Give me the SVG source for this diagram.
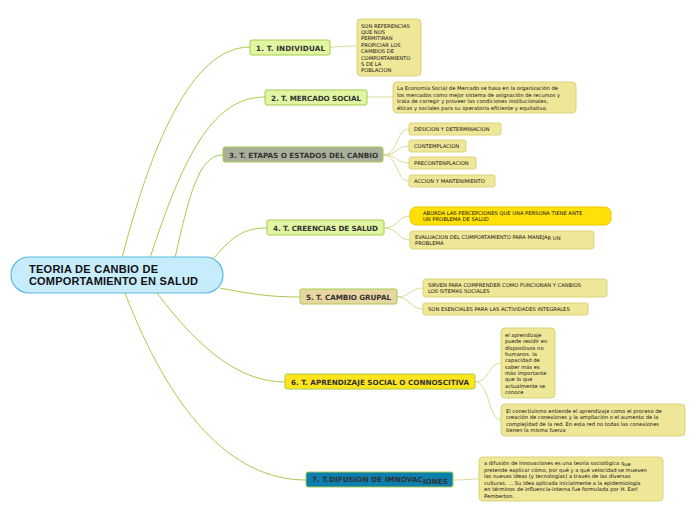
<svg xmlns="http://www.w3.org/2000/svg" width="696" height="520" viewBox="0 0 696 520">
<style>
.br{stroke:#a6cc4e;stroke-width:1;}
.bt{font-family:"DejaVu Sans",Verdana,sans-serif;font-weight:bold;font-size:7.2px;fill:#333;}
.lf{fill:#efe798;stroke:#d9d37a;stroke-width:1;}
.lt{font-family:"DejaVu Sans",Verdana,sans-serif;font-size:5.2px;fill:#111;}
.c1{fill:none;stroke:#a6cc4e;stroke-width:1;}
.c2{fill:none;stroke:#dcd99a;stroke-width:1;}
</style>
<rect width="696" height="520" fill="#ffffff"/>
<g id="connectors">
<path class="c1" d="M122,258 C150,150 190,47 250,47"/>
<path class="c1" d="M150,258 C185,150 215,97 265,97"/>
<path class="c1" d="M175,258 C190,190 200,155 223,155"/>
<path class="c1" d="M213,259 C230,240 240,228 267,228"/>
<path class="c1" d="M220,288 C250,294 270,297 300,297"/>
<path class="c1" d="M157,293 C200,350 240,382 285,382"/>
<path class="c1" d="M125,293 C170,410 230,480 306,480"/>
<path class="c2" d="M330,47 C340,47 345,46 357,46"/>
<path class="c2" d="M367,97 C378,97 382,97 393,97"/>
<path class="c2" d="M383,155 C398,155 396,129 409,129"/>
<path class="c2" d="M383,155 C398,155 396,146 409,146"/>
<path class="c2" d="M383,155 C398,155 396,163 409,163"/>
<path class="c2" d="M383,155 C398,155 396,181 409,181"/>
<path class="c2" d="M384,228 C398,228 398,216 410,216"/>
<path class="c2" d="M384,228 C398,228 398,240 410,240"/>
<path class="c2" d="M397,297 C410,297 410,288 423,288"/>
<path class="c2" d="M397,297 C410,297 410,309 423,309"/>
<path class="c2" d="M475,382 C490,382 488,363 501,363"/>
<path class="c2" d="M475,382 C490,382 488,420 501,420"/>
<path class="c2" d="M453,480 C465,480 468,479 479,479"/>
</g>
<g id="central">
<rect x="11" y="257" width="212" height="36" rx="18" fill="#c7ecfc" stroke="#5db9e2" stroke-width="1.2"/>
<text x="29" y="273" font-family="Liberation Sans,Arial,sans-serif" font-weight="bold" font-size="11" fill="#111" textLength="129">TEORIA DE CANBIO DE</text>
<text x="29" y="285" font-family="Liberation Sans,Arial,sans-serif" font-weight="bold" font-size="11" fill="#111" textLength="169">COMPORTAMIENTO EN SALUD</text>
</g>
<g id="b1"><rect class="br" x="250" y="40" width="80" height="15" rx="2" fill="#e1f5a2"/><text class="bt" x="256" y="50.5" textLength="69">1. T. INDIVIDUAL</text></g>
<g id="b2"><rect class="br" x="265" y="90" width="102" height="15" rx="2" fill="#e1f5a2"/><text class="bt" x="271" y="100.5" textLength="90">2. T. MERCADO SOCIAL</text></g>
<g id="b3"><rect class="br" x="223" y="147" width="160" height="15" rx="2" fill="#aaaf9b"/><text class="bt" x="229" y="157.5" textLength="149">3. T. ETAPAS O ESTADOS DEL CANBIO</text></g>
<g id="b4"><rect class="br" x="267" y="220" width="117" height="15" rx="2" fill="#e1f5a2"/><text class="bt" x="273" y="230.5" textLength="105">4. T. CREENCIAS DE SALUD</text></g>
<g id="b5"><rect class="br" x="300" y="289" width="97" height="15" rx="2" fill="#e8d6a2"/><text class="bt" x="306" y="299.5" textLength="85">5. T. CAMBIO GRUPAL</text></g>
<g id="b6"><rect class="br" x="285" y="374" width="190" height="15" rx="2" fill="#ffe51c"/><text class="bt" x="291" y="384.5" textLength="178">6. T. APRENDIZAJE SOCIAL O CONNOSCITIVA</text></g>
<g id="b7"><rect class="br" x="306" y="472" width="147" height="15" rx="2" fill="#0c7fae"/><text class="bt" x="312" y="482" textLength="136">7. T.DIFUSION DE IMNOVAC<tspan dy="1.5">IONES</tspan></text></g>
<g id="l1"><rect class="lf" x="357" y="19" width="64" height="57" rx="4"/>
<text class="lt" x="361" y="27.5"><tspan x="361">SON REFERENCIAS</tspan><tspan x="361" dy="6.4">QUE NOS</tspan><tspan x="361" dy="6.4">PERMITIRAN</tspan><tspan x="361" dy="6.4">PROPICIAR LOS</tspan><tspan x="361" dy="6.4">CAMBIOS DE</tspan><tspan x="361" dy="6.4">COMPORTAMIENTO</tspan><tspan x="361" dy="6.4">S DE LA</tspan><tspan x="361" dy="6.4">POBLACION</tspan></text></g>
<g id="l2"><rect class="lf" x="393" y="82" width="183" height="31" rx="4"/>
<text class="lt" x="397" y="90"><tspan x="397">La Economía Social de Mercado se basa en la organización de</tspan><tspan x="397" dy="6.6">los mercados como mejor sistema de asignación de recursos y</tspan><tspan x="397" dy="6.6">trata de corregir y proveer las condiciones institucionales,</tspan><tspan x="397" dy="6.6">éticas y sociales para su operatoria eficiente y equitativa.</tspan></text></g>
<g id="l3a"><rect class="lf" x="409" y="123" width="92" height="12" rx="2"/><text class="lt" x="414" y="131">DESICION Y DETERMINACION</text></g>
<g id="l3b"><rect class="lf" x="409" y="140" width="57" height="12" rx="2"/><text class="lt" x="414" y="148">CONTEMPLACION</text></g>
<g id="l3c"><rect class="lf" x="409" y="157" width="67" height="12" rx="2"/><text class="lt" x="414" y="165">PRECONTENPLACION</text></g>
<g id="l3d"><rect class="lf" x="409" y="175" width="86" height="12" rx="2"/><text class="lt" x="414" y="183">ACCION Y MANTENIMIENTO</text></g>
<g id="l4a"><rect x="410" y="207" width="201" height="18" rx="6" fill="#ffe008" stroke="#e6c800" stroke-width="1"/><text class="lt" x="423" y="214.5"><tspan x="423">ABORDA LAS PERCEPCIONES QUE UNA PERSONA TIENE ANTE</tspan><tspan x="423" dy="6.6">UN PROBLEMA DE SALUD</tspan></text></g>
<g id="l4b"><rect class="lf" x="410" y="231" width="184" height="18" rx="3"/><text class="lt" x="415" y="238.5"><tspan x="415">EVALUACION DEL COMPORTAMIENTO PARA MANEJA</tspan><tspan dy="1.2">R UN</tspan><tspan x="415" dy="5.4">PROBLEMA</tspan></text></g>
<g id="l5a"><rect class="lf" x="423" y="279" width="184" height="18" rx="3"/><text class="lt" x="428" y="287"><tspan x="428">SIRVEN PARA COMPRENDER COMO FUNCIONAN Y CANBIOS</tspan><tspan x="428" dy="6.4">LOS SITEMAS SOCIALES</tspan></text></g>
<g id="l5b"><rect class="lf" x="423" y="303" width="165" height="12" rx="2"/><text class="lt" x="428" y="311">SON ESENCIALES PARA LAS ACTIVIDADES INTEGRALES</text></g>
<g id="l6a"><rect class="lf" x="501" y="328" width="54" height="70" rx="4"/>
<text class="lt" x="505" y="337"><tspan x="505">el aprendizaje</tspan><tspan x="505" dy="6.35">puede residir en</tspan><tspan x="505" dy="6.35">dispositivos no</tspan><tspan x="505" dy="6.35">humanos. la</tspan><tspan x="505" dy="6.35">capacidad de</tspan><tspan x="505" dy="6.35">saber más es</tspan><tspan x="505" dy="6.35">más importante</tspan><tspan x="505" dy="6.35">que lo que</tspan><tspan x="505" dy="6.35">actualmente se</tspan><tspan x="505" dy="6.35">conoce</tspan></text></g>
<g id="l6b"><rect class="lf" x="501" y="404" width="184" height="32" rx="4"/>
<text class="lt" x="506" y="412.5"><tspan x="506">El conectivismo entiende el aprendizaje como el proceso de</tspan><tspan x="506" dy="6.5">creación de conexiones y la ampliación o el aumento de la</tspan><tspan x="506" dy="6.5">complejidad de la red. En esta red no todas las conexiones</tspan><tspan x="506" dy="6.5">tienen la misma fuerza</tspan></text></g>
<g id="l7"><rect class="lf" x="479" y="457" width="184" height="44" rx="4"/>
<text class="lt" x="484" y="465"><tspan x="484">a difusión de innovaciones es una teoría sociológica q</tspan><tspan dy="1.2">ue</tspan><tspan x="484" dy="5.4">pretende explicar cómo, por qué y a qué velocidad se mueven</tspan><tspan x="484" dy="6.6">las nuevas ideas (y tecnologías) a través de las diversas</tspan><tspan x="484" dy="6.6">culturas.  ...  Su idea aplicada inicialmente a la epidemiología</tspan><tspan x="484" dy="6.6">en términos de influencia-interna fue formulada por H. Earl</tspan><tspan x="484" dy="6.6">Pemberton.</tspan></text></g>
</svg>
